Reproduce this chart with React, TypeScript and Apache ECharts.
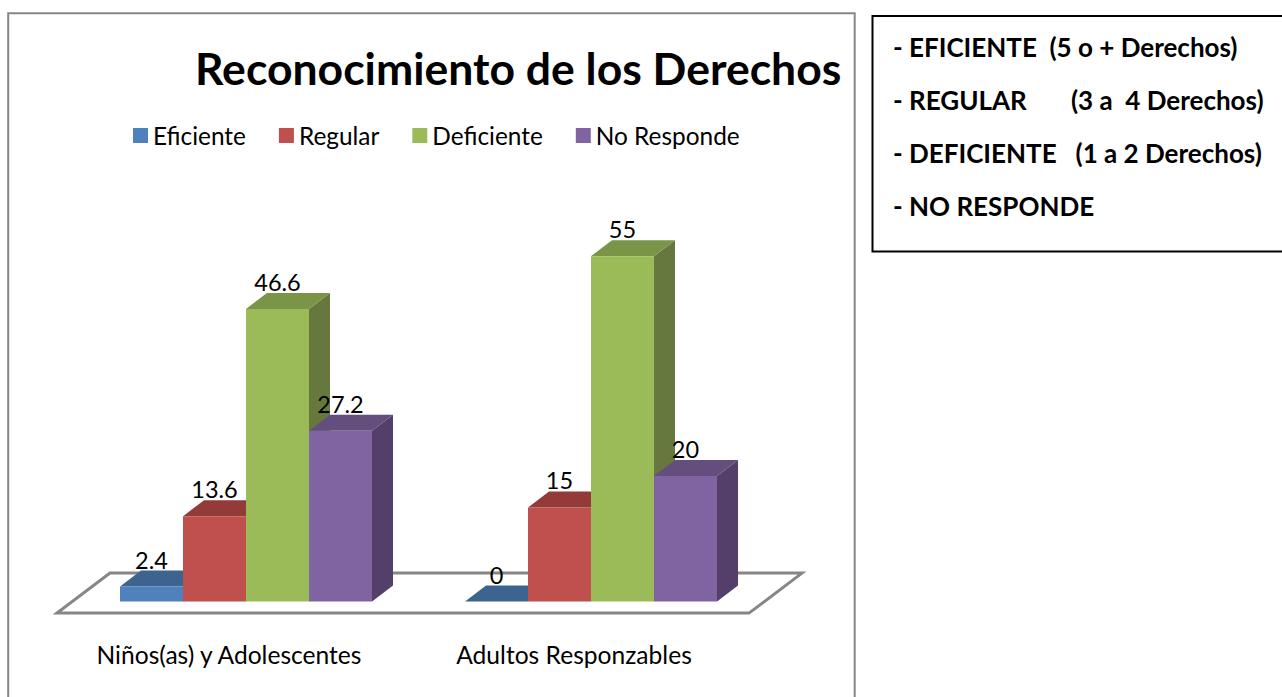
import React, { useEffect, useRef } from "react";
import * as echarts from "echarts";

const titleText = "Reconocimiento de los Derechos";
const categories = ["Niños(as) y Adolescentes", "Adultos Responzables"];
const seriesNames = ["Eficiente", "Regular", "Deficiente", "No Responde"];
const eficiente = [2.4, 0];
const regular = [13.6, 15];
const deficiente = [46.6, 55];
const noResponde = [27.2, 20];
const seriesValues = [eficiente, regular, deficiente, noResponde];
const frontColors = ["#4F81BD", "#C0504D", "#9BBB59", "#8064A2"];
const topColors = ["#3D648F", "#933B39", "#7A9448", "#644E7E"];
const sideColors = ["#345478", "#7B3230", "#66783D", "#533F69"];
const noteLines = [
  "- EFICIENTE  (5 o + Derechos)",
  "- REGULAR       (3 a  4 Derechos)",
  "- DEFICIENTE   (1 a 2 Derechos)",
  "- NO RESPONDE",
];
const noteCenters = [47, 100, 153, 206];

const FONT = "Lato";
const DX = 21;
const DY = -16;
const BAR_SHARE = 63 / 345;

function makeBarRender(idx: number) {
  return (_params: any, api: any) => {
    const value = api.value(1);
    const [cx, yTop] = api.coord([api.value(0), value]);
    const [, yBase] = api.coord([api.value(0), 0]);
    const band = api.size([1, 0])[0];
    const w = band * BAR_SHARE;
    const x0 = cx + (idx - 2) * w;
    const x1 = x0 + w;
    const children: any[] = [
      {
        type: "polygon",
        shape: { points: [[x1, yTop], [x1 + DX, yTop + DY], [x1 + DX, yBase + DY], [x1, yBase]] },
        style: { fill: sideColors[idx] },
      },
      {
        type: "polygon",
        shape: { points: [[x0, yTop], [x1, yTop], [x1 + DX, yTop + DY], [x0 + DX, yTop + DY]] },
        style: { fill: topColors[idx] },
      },
      {
        type: "rect",
        shape: { x: x0, y: yTop, width: w, height: yBase - yTop },
        style: { fill: frontColors[idx] },
      },
      {
        type: "text",
        style: {
          text: String(value),
          x: x0 + w / 2,
          y: yTop - 27,
          align: "center",
          verticalAlign: "middle",
          fill: "#000",
          font: `23.5px ${FONT}`,
        },
      },
    ];
    return { type: "group", children };
  };
}

function renderFloor(params: any, api: any) {
  const [, yBase] = api.coord([0, 0]);
  const { x, width } = params.coordSys;
  const front = yBase + 11.5;
  const back = yBase - 28.5;
  return {
    type: "polygon",
    shape: {
      points: [
        [x - 16.5, front],
        [x + width - 14.5, front],
        [x + width + 38.5, back],
        [x + 36.5, back],
      ],
    },
    style: { fill: "#fff", stroke: "#868686", lineWidth: 3 },
  };
}

export default function App() {
  const ref = useRef<HTMLDivElement>(null);
  useEffect(() => {
    document.body.style.margin = "0";
    const chart = echarts.init(ref.current!, undefined, { renderer: "svg" });
    chart.setOption({
      animation: false,
      backgroundColor: "#fff",
      title: {
        text: titleText,
        left: 195,
        top: 45,
        padding: 0,
        textStyle: { fontFamily: FONT, fontWeight: "bold", fontSize: 44.5, color: "#000" },
      },
      legend: {
        data: seriesNames,
        left: 133,
        top: 123.5,
        padding: 0,
        itemWidth: 15,
        itemHeight: 15,
        itemGap: 33,
        icon: "rect",
        textStyle: { fontFamily: FONT, fontSize: 24.4, color: "#000" },
      },
      grid: { left: 73.5, right: 518.5, top: 224.8, bottom: 95.4 },
      xAxis: {
        type: "category",
        data: categories,
        axisLine: { show: false },
        axisTick: { show: false },
        axisLabel: {
          interval: 0,
          hideOverlap: false,
          margin: 40,
          color: "#000",
          fontFamily: FONT,
          fontSize: 24.6,
          padding: [0, 34, 0, 0],
        },
      },
      yAxis: { type: "value", min: 0, max: 60, show: false },
      graphic: [
        {
          type: "rect",
          shape: { x: 8.2, y: 13.2, width: 846.5, height: 700 },
          style: { fill: "#fff", stroke: "#868686", lineWidth: 2 },
        },
        {
          type: "rect",
          shape: { x: 872.5, y: 16, width: 430, height: 235.5 },
          style: { fill: "#fff", stroke: "#000", lineWidth: 2 },
        },
        ...noteLines.map((t, i) => ({
          type: "text",
          x: 893,
          y: noteCenters[i],
          style: {
            text: t,
            fill: "#000",
            font: `bold 26px ${FONT}`,
            verticalAlign: "middle",
            align: "left",
          },
        })),
      ],
      series: [
        {
          type: "custom",
          name: "floor",
          coordinateSystem: "cartesian2d",
          data: [[0, 0]],
          renderItem: renderFloor,
          silent: true,
          z: 1,
        },
        ...seriesNames.map((name, idx) => ({
          type: "custom",
          name,
          coordinateSystem: "cartesian2d",
          encode: { x: 0, y: 1 },
          itemStyle: { color: frontColors[idx] },
          data: seriesValues[idx].map((v, c) => [c, v]),
          renderItem: makeBarRender(idx),
          z: 2 + idx,
        })),
      ],
    });
    return () => chart.dispose();
  }, []);
  return <div ref={ref} style={{ width: 1282, height: 697, overflow: "hidden" }} />;
}
